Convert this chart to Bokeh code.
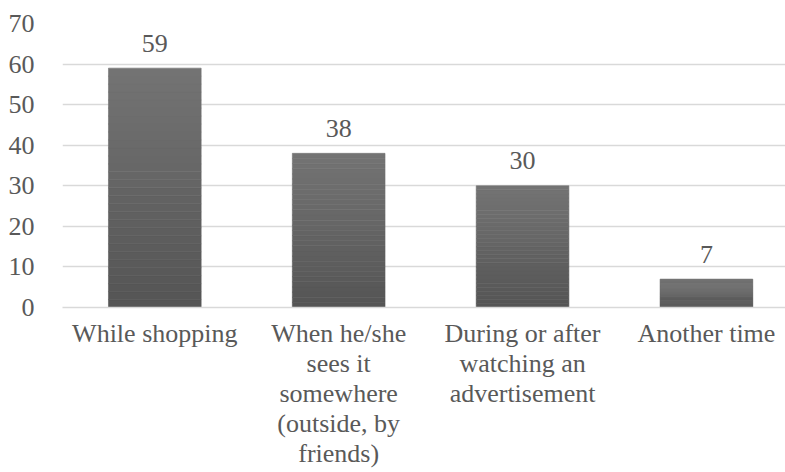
from bokeh.plotting import figure
from bokeh.models import Range1d, FixedTicker, ColumnDataSource
from bokeh.core.properties import value
from bokeh.embed import file_html
from bokeh.resources import INLINE

categories = ["While shopping",
              "When he/she\nsees it\nsomewhere\n(outside, by\nfriends)",
              "During or after\nwatching an\nadvertisement",
              "Another time"]
values = [59, 38, 30, 7]
y_ticks = [0, 10, 20, 30, 40, 50, 60, 70]

FONT = "'Liberation Serif', 'Times New Roman', serif"
TXT = "#595959"

p = figure(width=785, height=472, output_backend="svg", toolbar_location=None,
           x_range=Range1d(-0.502, 3.43), y_range=Range1d(0, 70),
           min_border_left=62, min_border_right=0, min_border_top=23,
           min_border_bottom=165)
p.outline_line_color = None
p.background_fill_color = "white"
p.border_fill_color = "white"

xs = list(range(len(values)))

# gradient-like bars: many thin layers from light top to dark bottom
N = 30
top_c = (0x74, 0x74, 0x74)
bot_c = (0x54, 0x54, 0x54)
for k in range(N):
    t = (k + 0.5) / N
    c = tuple(int(round(bot_c[i] + (top_c[i] - bot_c[i]) * t)) for i in range(3))
    col = "#%02x%02x%02x" % c
    src = ColumnDataSource(dict(x=xs,
                                b=[v * k / N for v in values],
                                t=[v * (k + 1) / N for v in values]))
    p.vbar(x="x", bottom="b", top="t", width=0.504, source=src,
           fill_color=col, line_color=col, line_width=0.6)

lab = ColumnDataSource(dict(x=xs, y=values, t=[str(v) for v in values]))
p.text(x="x", y="y", text="t", source=lab, text_align="center",
       text_baseline="alphabetic", y_offset=-25,
       text_font=value(FONT), text_font_size="26px", text_color=TXT)

p.ygrid.ticker = FixedTicker(ticks=y_ticks)
p.ygrid.grid_line_color = "#d9d9d9"
p.ygrid.grid_line_width = 1.5
p.xgrid.grid_line_color = None

p.yaxis.ticker = FixedTicker(ticks=y_ticks)
p.yaxis.axis_line_color = None
p.yaxis.major_tick_line_color = None
p.yaxis.minor_tick_line_color = None
p.yaxis.major_label_standoff = 22
p.yaxis.major_label_text_font = FONT
p.yaxis.major_label_text_font_size = "26px"
p.yaxis.major_label_text_color = TXT

p.xaxis.ticker = FixedTicker(ticks=xs)
p.xaxis.major_label_overrides = {i: c for i, c in enumerate(categories)}
p.xaxis.axis_line_color = "#d9d9d9"
p.xaxis.axis_line_width = 1.5
p.xaxis.major_tick_line_color = None
p.xaxis.minor_tick_line_color = None
p.xaxis.major_label_standoff = 5
p.xaxis.major_label_text_font = FONT
p.xaxis.major_label_text_font_size = "26px"
p.xaxis.major_label_text_color = TXT
p.xaxis.major_label_text_align = "center"
p.xaxis.major_label_text_line_height = 1.04

open("out.html", "w").write(file_html(p, INLINE))
